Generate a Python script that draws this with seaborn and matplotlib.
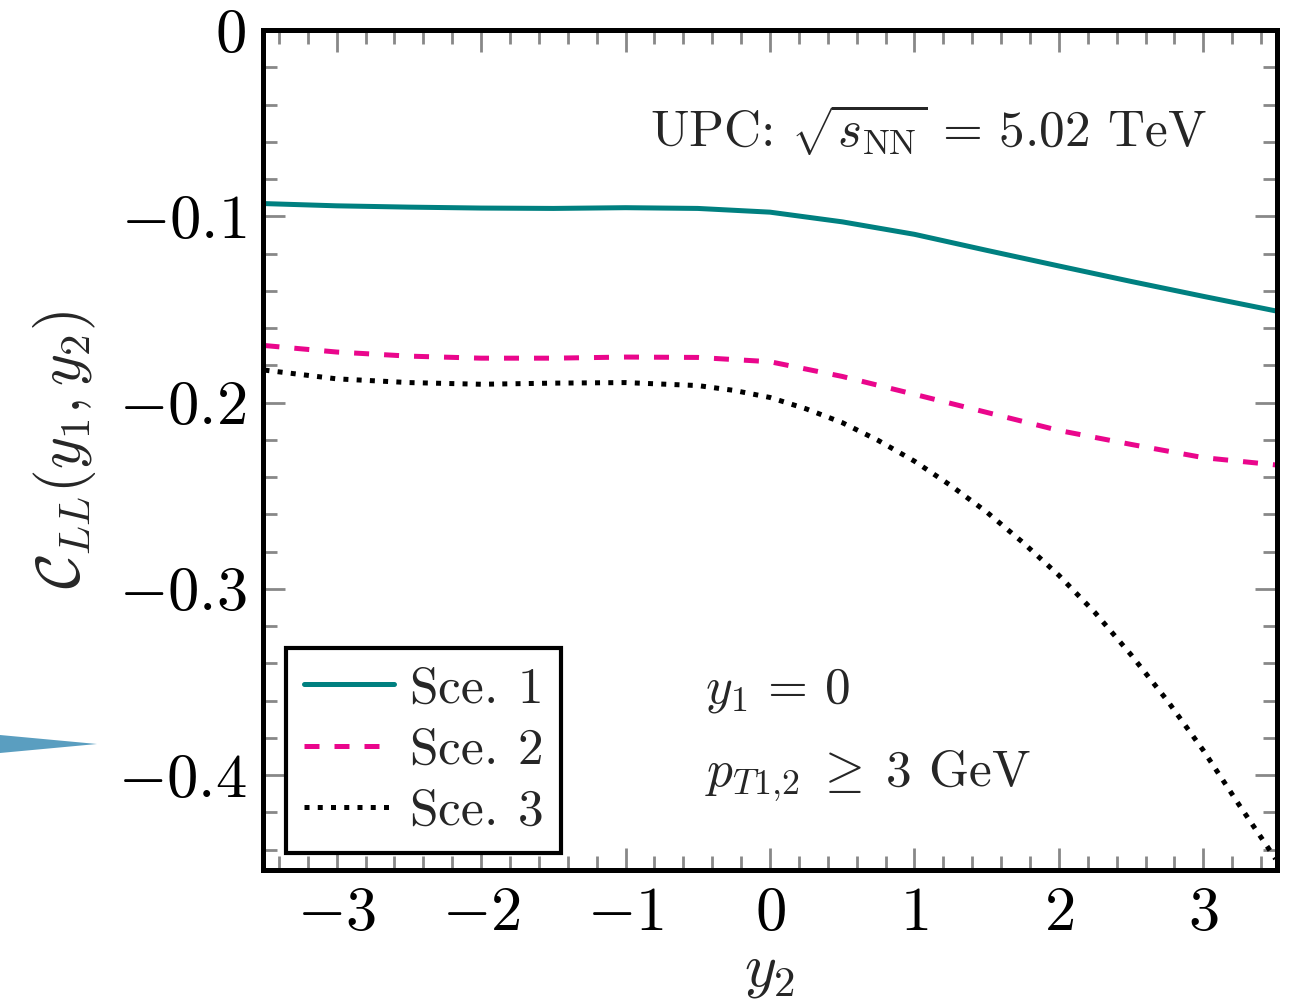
import numpy as np
import pandas as pd
import seaborn as sns
import matplotlib
matplotlib.use("Agg")
import matplotlib.pyplot as plt
from matplotlib.ticker import MultipleLocator, FixedLocator, FuncFormatter
from matplotlib.patches import Polygon

# ---- data ----
x_s1 = [-3.5, -3.0, -2.5, -2.0, -1.5, -1.0, -0.5, 0.0, 0.5, 1.0, 1.5, 2.0, 2.5, 3.0, 3.5]
y_s1 = [-0.0932, -0.0944, -0.0951, -0.0956, -0.0958, -0.0954, -0.0958, -0.0978,
        -0.1030, -0.1097, -0.1183, -0.1267, -0.1350, -0.1430, -0.1508]

x_s2 = [-3.5, -3.0, -2.5, -2.0, -1.5, -1.0, -0.5, 0.0, 0.5, 1.0, 1.5, 2.0, 2.5, 3.0, 3.5]
y_s2 = [-0.1694, -0.1729, -0.1751, -0.1762, -0.1762, -0.1756, -0.1758, -0.1781,
        -0.1860, -0.1956, -0.2053, -0.2150, -0.2225, -0.2296, -0.2335]

x_s3 = [-3.5, -3.0, -2.5, -2.0, -1.5, -1.0, -0.5, -0.25, 0.0, 0.25, 0.5, 0.75, 1.0,
        1.25, 1.5, 1.75, 2.0, 2.25, 2.5, 2.75, 3.0, 3.25, 3.5]
y_s3 = [-0.1826, -0.1873, -0.1893, -0.1902, -0.1896, -0.1893, -0.1909, -0.1935, -0.1973,
        -0.2034, -0.2108, -0.2204, -0.2315, -0.2445, -0.2588, -0.2751, -0.2928, -0.3128,
        -0.3355, -0.3600, -0.3868, -0.4163, -0.4450]

labels = [r"Sce.$\;\,$1", r"Sce.$\;\,$2", r"Sce.$\;\,$3"]
colors = ["#008080", "#ea068c", "#000000"]

x_ticks = [-3, -2, -1, 0, 1, 2, 3]
y_ticks = [0.0, -0.1, -0.2, -0.3, -0.4]

# ---- style ----
sns.set_style("ticks")
plt.rcParams["mathtext.fontset"] = "cm"
plt.rcParams["font.family"] = ["serif"]
plt.rcParams["font.serif"] = ["cmr10", "DejaVu Serif"]
plt.rcParams["axes.unicode_minus"] = False

W, H = 1291, 1006
fig = plt.figure(figsize=(W / 100, H / 100), dpi=100)
ax = fig.add_axes([263 / W, 1 - 870 / H, (1277 - 263) / W, (870 - 30) / H])

lw = 3.6
sns.lineplot(x=x_s1, y=y_s1, ax=ax, color=colors[0], lw=lw, label=labels[0])
sns.lineplot(x=x_s2, y=y_s2, ax=ax, color=colors[1], lw=lw, label=labels[1],
             dashes=False, linestyle=(0, (3.0, 3.0)))
sns.lineplot(x=x_s3, y=y_s3, ax=ax, color=colors[2], lw=lw, label=labels[2],
             linestyle=":")

ax.set_xlim(-3.51, 3.51)
ax.set_ylim(-0.451, 0.0)

ax.xaxis.set_major_locator(FixedLocator(x_ticks))
ax.xaxis.set_minor_locator(MultipleLocator(0.2))
ax.yaxis.set_major_locator(FixedLocator(y_ticks))
ax.yaxis.set_minor_locator(MultipleLocator(0.02))


def fmt(v, pos):
    if abs(v) < 1e-9:
        return r"$0$"
    return r"$%s$" % ("%g" % v)


ax.xaxis.set_major_formatter(FuncFormatter(fmt))
ax.yaxis.set_major_formatter(FuncFormatter(fmt))

tick_color = "#888888"
ax.tick_params(which="both", direction="in", top=True, right=True, color=tick_color,
               labelsize=45, labelcolor="black")
ax.tick_params(which="major", length=16, width=2.0, pad=12)
ax.tick_params(which="minor", length=10, width=2.0)

for sp in ax.spines.values():
    sp.set_linewidth(3.6)
    sp.set_color("black")
    sp.set_visible(True)

ax.set_xlabel(r"$y_2$", fontsize=44, labelpad=2)
ax.set_ylabel(r"$\mathcal{C}_{LL}(y_1,y_2)$", fontsize=44, labelpad=14)

ax.text(0.656, 0.881, r"UPC: $\sqrt{s_{\mathrm{NN}}}\,=\,5.02$ TeV",
        transform=ax.transAxes, fontsize=37, ha="center", va="center")
ax.text(0.436, 0.214, r"$y_1\,=\,0$", transform=ax.transAxes, fontsize=37,
        ha="left", va="center")
ax.text(0.436, 0.111, r"$p_{T1{,}2}\;\geq\;3$ GeV", transform=ax.transAxes,
        fontsize=37, ha="left", va="center")

leg = ax.legend(loc="lower left", bbox_to_anchor=(0.0227, 0.0202), borderaxespad=0,
                fontsize=37, handlelength=1.75, handletextpad=0.3, labelspacing=0.3,
                frameon=True, fancybox=False, framealpha=1, edgecolor="black",
                borderpad=0.35)
leg.get_frame().set_linewidth(3.0)

# stray blue wedge at the left edge of the reference image
tri = Polygon([[0 / W, 1 - 735 / H], [0 / W, 1 - 753 / H], [97 / W, 1 - 744 / H]],
              closed=True, transform=fig.transFigure, facecolor="#5a9ec0",
              edgecolor="none")
fig.patches.append(tri)

fig.savefig("out.png", dpi=100)
